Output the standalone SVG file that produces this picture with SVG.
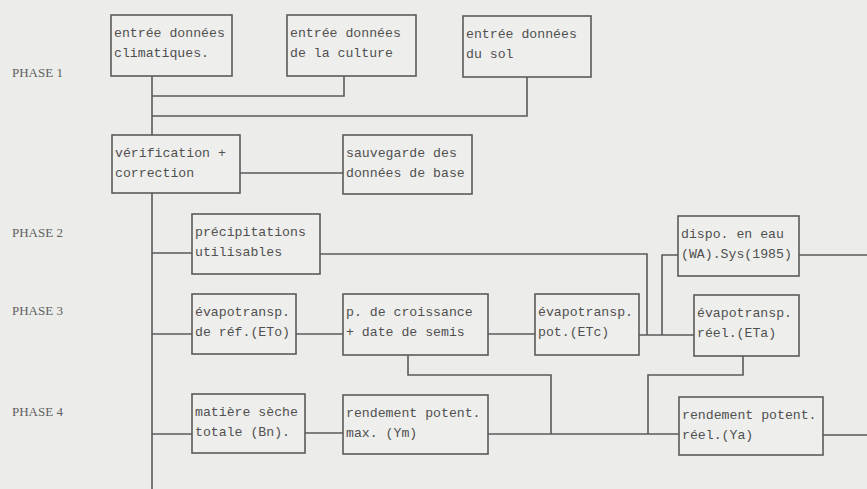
<svg xmlns="http://www.w3.org/2000/svg" width="867" height="489" viewBox="0 0 867 489">
<style>
.bg{fill:#ececea}
.box{fill:#eeeeec;stroke:#5a5a5a;stroke-width:1.6}
.t{font-family:"Liberation Mono","DejaVu Sans Mono",monospace;font-size:13.2px;fill:#505050}
.ph{font-family:"Liberation Serif",serif;font-size:13px;fill:#606060}
.c{fill:none;stroke:#5a5a5a;stroke-width:1.6}
</style>
<rect class="bg" x="0" y="0" width="867" height="489"/>
<g id="labels">
<text class="ph" x="12" y="77">PHASE 1</text>
<text class="ph" x="12" y="237">PHASE 2</text>
<text class="ph" x="12" y="315">PHASE 3</text>
<text class="ph" x="12" y="416">PHASE 4</text>
</g>
<g id="connectors">
<path class="c" d="M152,76 V135 M152,193 V489"/>
<path class="c" d="M152,96 H344 V76"/>
<path class="c" d="M152,116 H527 V77"/>
<path class="c" d="M240,173 H343"/>
<path class="c" d="M152,253 H192"/>
<path class="c" d="M320,254 H647 V335"/>
<path class="c" d="M678,255 H662 V335"/>
<path class="c" d="M152,334 H192"/>
<path class="c" d="M296,334 H343"/>
<path class="c" d="M488,334 H535"/>
<path class="c" d="M639,335 H694"/>
<path class="c" d="M408,355 V375 H551 V434"/>
<path class="c" d="M152,434 H192"/>
<path class="c" d="M305,433 H343"/>
<path class="c" d="M488,434 H679"/>
<path class="c" d="M743,356 V375 H648 V434"/>
<path class="c" d="M823,435 H867"/>
<path class="c" d="M799,255 H867"/>
</g>
<g id="n1"><rect class="box" x="111" y="15" width="121" height="61"/><text class="t" x="114" y="37">entrée données</text><text class="t" x="114" y="57">climatiques.</text></g>
<g id="n2"><rect class="box" x="287" y="15" width="129" height="61"/><text class="t" x="290" y="37">entrée données</text><text class="t" x="290" y="57">de la culture</text></g>
<g id="n3"><rect class="box" x="463" y="16" width="128" height="61"/><text class="t" x="466" y="38">entrée données</text><text class="t" x="466" y="58">du sol</text></g>
<g id="n4"><rect class="box" x="112" y="135" width="128" height="58"/><text class="t" x="115" y="157">vérification +</text><text class="t" x="115" y="177">correction</text></g>
<g id="n5"><rect class="box" x="343" y="135" width="129" height="59"/><text class="t" x="346" y="157">sauvegarde des</text><text class="t" x="346" y="177">données de base</text></g>
<g id="n6"><rect class="box" x="192" y="214" width="128" height="60"/><text class="t" x="195" y="236">précipitations</text><text class="t" x="195" y="256">utilisables</text></g>
<g id="n7"><rect class="box" x="678" y="216" width="121" height="60"/><text class="t" x="681" y="238">dispo. en eau</text><text class="t" x="681" y="258">(WA).Sys(1985)</text></g>
<g id="n8"><rect class="box" x="192" y="294" width="104" height="60"/><text class="t" x="195" y="316">évapotransp.</text><text class="t" x="195" y="336">de réf.(ETo)</text></g>
<g id="n9"><rect class="box" x="343" y="294" width="145" height="61"/><text class="t" x="346" y="316">p. de croissance</text><text class="t" x="346" y="336">+ date de semis</text></g>
<g id="n10"><rect class="box" x="535" y="294" width="104" height="61"/><text class="t" x="538" y="316">évapotransp.</text><text class="t" x="538" y="336">pot.(ETc)</text></g>
<g id="n11"><rect class="box" x="694" y="295" width="105" height="61"/><text class="t" x="697" y="317">évapotransp.</text><text class="t" x="697" y="337">réel.(ETa)</text></g>
<g id="n12"><rect class="box" x="192" y="394" width="113" height="59"/><text class="t" x="195" y="416">matière sèche</text><text class="t" x="195" y="436">totale (Bn).</text></g>
<g id="n13"><rect class="box" x="343" y="395" width="145" height="59"/><text class="t" x="346" y="417">rendement potent.</text><text class="t" x="346" y="437">max. (Ym)</text></g>
<g id="n14"><rect class="box" x="679" y="397" width="144" height="58"/><text class="t" x="682" y="419">rendement potent.</text><text class="t" x="682" y="439">réel.(Ya)</text></g>
</svg>
